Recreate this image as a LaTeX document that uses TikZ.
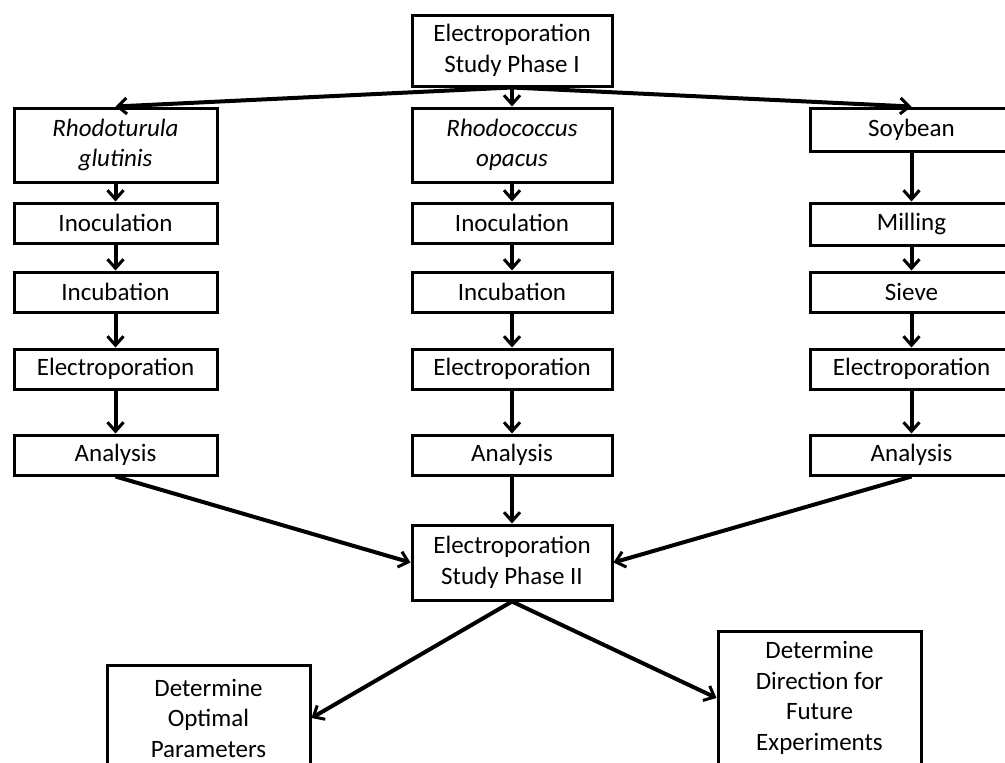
\documentclass[tikz,border=0pt]{standalone}
\usepackage{fontspec}
\setmainfont{Carlito}
\usetikzlibrary{arrows.meta}
\begin{document}
\begin{tikzpicture}
          [x=1pt,y=-1pt,
          font=\fontsize{25}{30.5}\selectfont,
          box/.style={shape=rectangle,draw=black,fill=white,text=black,line width=3pt,
            minimum width=203pt,inner sep=0pt,align=center},
          arc/.style={-{Straight Barb[length=9pt,width=16pt,line width=3pt]},line width=4pt}]

            \useasboundingbox (0,0) rectangle (1005,763);

            \node (p1) [box,minimum width=200pt,minimum height=71pt] at (512,50.5) {Electroporation\\Study Phase I};

            \node (rg) [box,minimum height=74pt] at (115.5,145) {\itshape Rhodoturula\\\itshape glutinis};
            \node (ro) [box,minimum width=200pt,minimum height=74pt] at (512,145) {\itshape Rhodococcus\\\itshape opacus};
            \node (sb) [box,minimum height=43pt] at (911.5,129.5) {Soybean};

            \node (rgi) [box,minimum height=40pt] at (115.5,223) {Inoculation};
            \node (roi) [box,minimum width=200pt,minimum height=40pt] at (512,223) {Inoculation};
            \node (sbm) [box,minimum height=42pt] at (911.5,224) {Milling};

            \node (rgc) [box,minimum height=40pt] at (115.5,292) {Incubation};
            \node (roc) [box,minimum width=200pt,minimum height=40pt] at (512,292) {Incubation};
            \node (sbs) [box,minimum height=40pt] at (911.5,292) {Sieve};

            \node (rge) [box,minimum height=40pt] at (115.5,369) {Electroporation};
            \node (roe) [box,minimum width=200pt,minimum height=40pt] at (512,369) {Electroporation};
            \node (sbe) [box,minimum height=40pt] at (911.5,369) {Electroporation};

            \node (rga) [box,minimum height=40pt] at (115.5,455) {Analysis};
            \node (roa) [box,minimum width=200pt,minimum height=40pt] at (512,455) {Analysis};
            \node (sba) [box,minimum height=40pt] at (911.5,455) {Analysis};

            \node (p2) [box,minimum width=200pt,minimum height=75pt] at (512,562.5) {Electroporation\\Study Phase II};

            \node (op) [box,minimum height=106pt] at (208.5,718) {Determine\\Optimal\\Parameters};
            \node (fe) [box,minimum height=134pt] at (819.5,698) {Determine\\Direction for\\Future\\Experiments};

          \draw [arc] (p1.south) to (rg.north);
          \draw [arc] (p1.south) to (ro.north);
          \draw [arc] (p1.south) to (sb.north);

          \draw [arc] (rg) to (rgi);
          \draw [arc] (rgi) to (rgc);
          \draw [arc] (rgc) to (rge);
          \draw [arc] (rge) to (rga);

          \draw [arc] (ro) to (roi);
          \draw [arc] (roi) to (roc);
          \draw [arc] (roc) to (roe);
          \draw [arc] (roe) to (roa);

          \draw [arc] (sb) to (sbm);
          \draw [arc] (sbm) to (sbs);
          \draw [arc] (sbs) to (sbe);
          \draw [arc] (sbe) to (sba);

          \draw [arc] (rga.south) to (p2.west);
          \draw [arc] (roa) to (p2);
          \draw [arc] (sba.south) to (p2.east);

          \draw [arc] (p2.south) to (op.east);
          \draw [arc] (p2.south) to (fe.west);

        \end{tikzpicture}
\end{document}
